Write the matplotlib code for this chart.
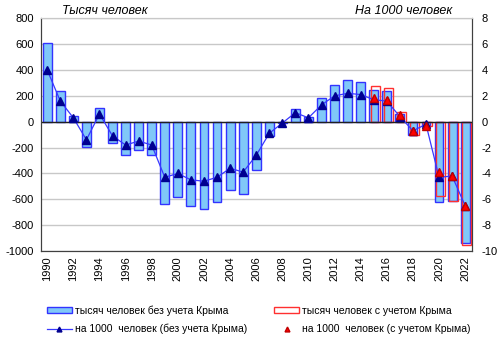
import matplotlib.pyplot as plt
from matplotlib.patches import Rectangle
from matplotlib.lines import Line2D

plt.rcParams['font.family'] = ['Liberation Sans', 'DejaVu Sans']
plt.rcParams['axes.unicode_minus'] = False

years = list(range(1990, 2023))
# thousand people, without Crimea
thous_no_crimea = [606, 237, 41, -196, 103, -163, -260, -222, -260, -638,
                   -580, -649, -677, -623, -528, -557, -373, -112, -10, 100,
                   38, 187, 287, 319, 307, 248, 240, 59, -100, -35,
                   -618, -610, -937]
# per 1000 people, without Crimea
per1000_no_crimea = [4.0, 1.6, 0.3, -1.4, 0.6, -1.1, -1.8, -1.5, -1.8, -4.3,
                     -4.0, -4.5, -4.6, -4.3, -3.6, -3.9, -2.6, -0.9, -0.1, 0.7,
                     0.3, 1.3, 2.0, 2.2, 2.1, 1.7, 1.6, 0.4, -0.7, -0.2,
                     -4.3, -4.2, -6.5]
# with Crimea, 2015-2022
crimea_years = list(range(2015, 2023))
thous_crimea = [274, 261, 72, -99, -32, -572, -612, -950]
per1000_crimea = [1.8, 1.7, 0.5, -0.7, -0.3, -3.9, -4.2, -6.5]

x = [y - 1990 for y in years]
xc = [y - 1990 for y in crimea_years]

fig = plt.figure(figsize=(5, 3.37), dpi=100)
ax = fig.add_axes([0.0814, 0.2552, 0.862, 0.6905])

ax.set_axisbelow(True)
ax.yaxis.grid(True, color='#c8c8c8', lw=1)
ax.bar(x, thous_no_crimea, width=0.68, color='#80c8f8', edgecolor='#3333ff', lw=1, zorder=2)
ax.bar([v + 0.12 for v in xc], thous_crimea, width=0.7, facecolor='none',
       edgecolor='#ff3030', lw=1, zorder=3)
ax.axhline(0, color='#202020', lw=1, zorder=4)

ax.set_xlim(-0.5, 32.5)
ax.set_ylim(-1000, 800)
ax.set_yticks(range(-1000, 801, 200))
ax.set_xticks([v for v in x if years[v] % 2 == 0])
ax.set_xticklabels([str(years[v]) for v in x if years[v] % 2 == 0], rotation=90, fontsize=8)
ax.tick_params(axis='both', length=0, labelsize=8)
ax.tick_params(axis='y', pad=5)
ax.tick_params(axis='x', pad=4)

ax2 = ax.twinx()
ax2.plot(x, per1000_no_crimea, color='#3838ff', lw=0.9, marker='^', ms=5.5,
         mfc='#000090', mec='#000090', zorder=5)
ax2.plot(xc, per1000_crimea, ls='none', marker='^', ms=5.5, mfc='#ff0000',
         mec='#c00000', zorder=6)
ax2.set_ylim(-10, 8)
ax2.set_yticks(range(-10, 9, 2))
ax2.tick_params(axis='y', length=0, labelsize=8, pad=7)

for a in (ax, ax2):
    for s in ('left', 'right', 'bottom'):
        a.spines[s].set_color('#404040')
    a.spines['top'].set_color('#c8c8c8')

fig.text(0.124, 0.968, 'Тысяч человек', style='italic', fontsize=9, va='center')
fig.text(0.71, 0.968, 'На 1000 человек', style='italic', fontsize=9, va='center')

handles = [
    Rectangle((0, 0), 1, 1, facecolor='#80c8f8', edgecolor='#3333ff', lw=1),
    Line2D([], [], color='#3838ff', lw=0.9, marker='^', ms=3.5, mfc='#000090', mec='#000090'),
    Rectangle((0, 0), 1, 1, facecolor='none', edgecolor='#ff3030', lw=1),
    Line2D([], [], ls='none', marker='^', ms=3.5, mfc='#ff0000', mec='#c00000'),
]
labels = ['тысяч человек без учета Крыма', 'на 1000  человек (без учета Крыма)',
          'тысяч человек с учетом Крыма', 'на 1000  человек (с учетом Крыма)']
fig.legend(handles, labels, ncol=2, loc='lower left', bbox_to_anchor=(0.075, -0.02),
           frameon=False, fontsize=7.5, handlelength=2.4, handleheight=0.5,
           handletextpad=0.3, columnspacing=2.6, labelspacing=0.75)

fig.savefig('out.png', dpi=100)
